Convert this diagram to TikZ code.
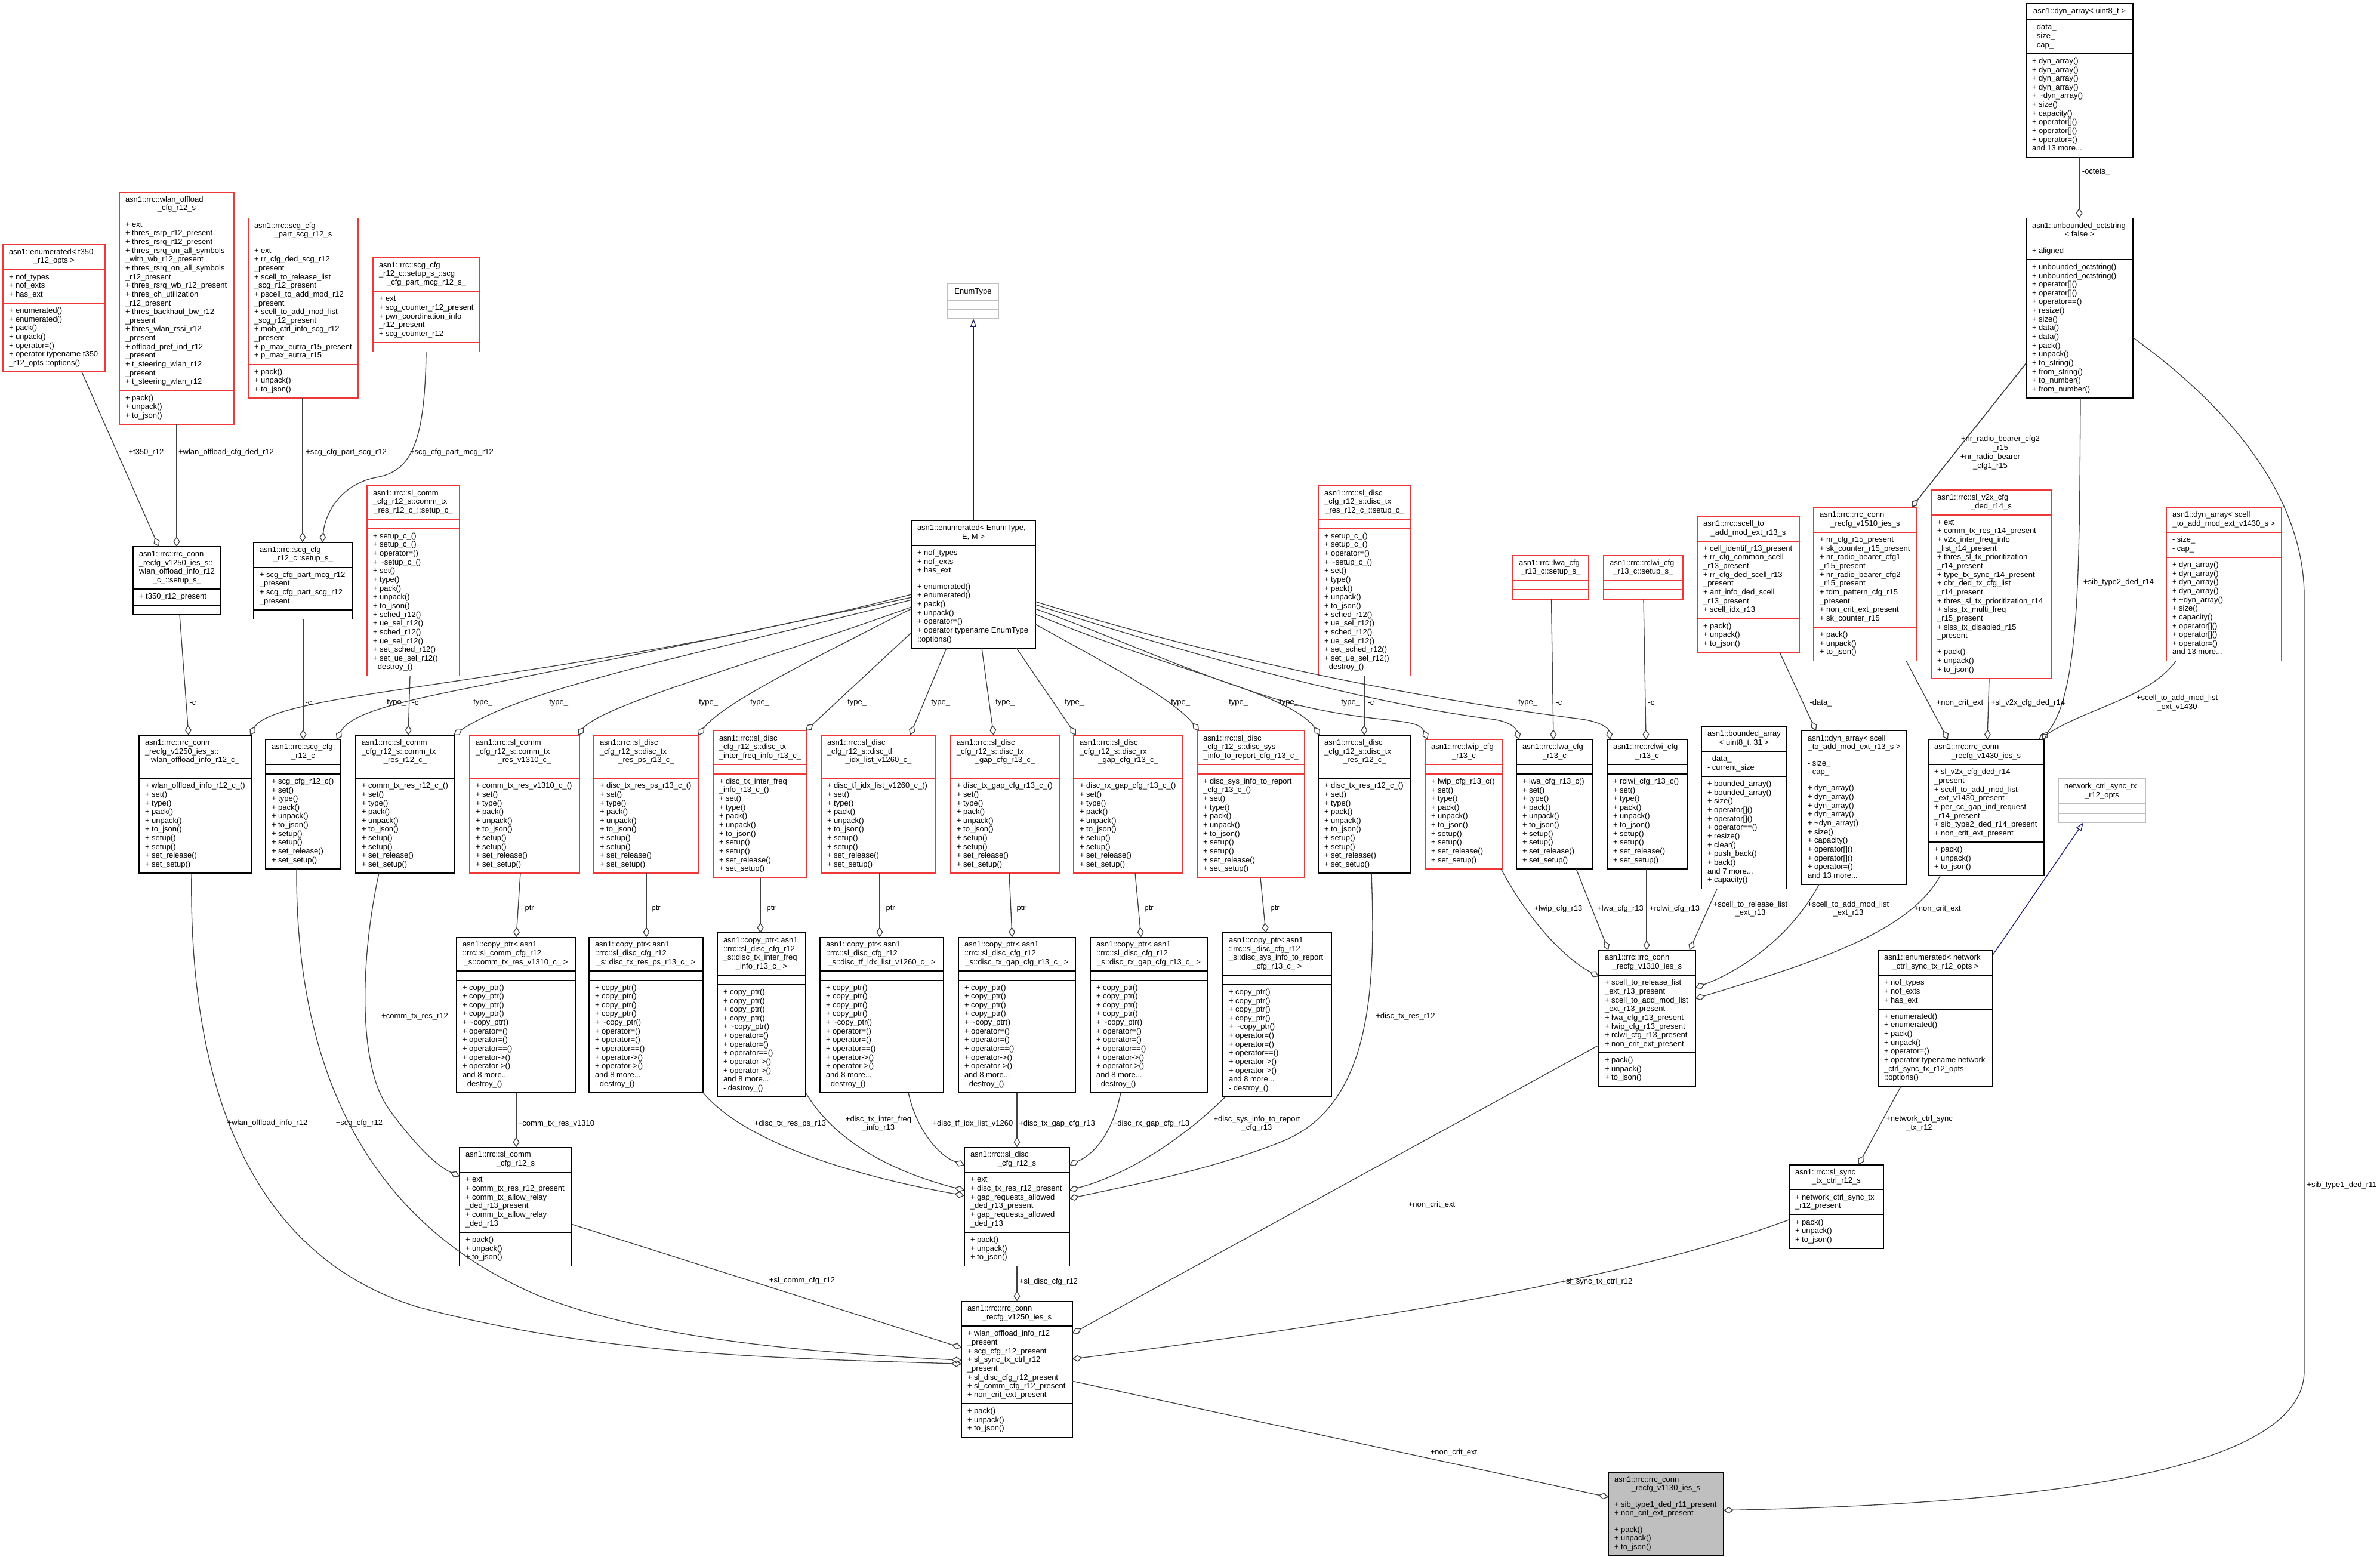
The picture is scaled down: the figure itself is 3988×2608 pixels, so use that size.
\documentclass[tikz,border=0pt]{standalone}
\usepackage{fontspec}
\setmainfont{Liberation Sans}
\usetikzlibrary{shapes.multipart,arrows.meta,calc}
\definecolor{boxred}{RGB}{240,55,55}
\definecolor{boxgrey}{RGB}{191,191,191}
\definecolor{edgec}{RGB}{64,64,64}
\definecolor{navyc}{RGB}{25,25,112}
\definecolor{fillg}{RGB}{191,191,191}
\newcommand\fs{\fontsize{13}{14.65}\selectfont}
% title: leading lines left-aligned, last line centred in the box
\newcommand\ttl[3]{\begin{tabular}{@{}l@{}}#2\multicolumn{1}{@{}c@{}}{\makebox[\dimexpr#1pt-20pt\relax][c]{#3}}\end{tabular}}
\newcommand\lst[1]{\begin{tabular}{@{}l@{}}#1\end{tabular}}
\newcommand\lbltwo[2]{\begin{tabular}{@{}l@{}}#1\\\multicolumn{1}{@{}c@{}}{#2}\end{tabular}}
\newcommand\umlc[9]{\node[#1, minimum width=#5pt] (#2) at (#3,#4) {\ttl{#5}{#6}{#7}\nodepart{two}\lst{#8}\nodepart{three}\lst{#9}};}
\newcommand\Mpj{+ pack()\\+ unpack()\\+ to\_json()}
\newcommand\Mch{+ set()\\+ type()\\+ pack()\\+ unpack()\\+ to\_json()\\+ setup()\\+ setup()\\+ set\_release()\\+ set\_setup()}
\newcommand\Mcp{+ copy\_ptr()\\+ copy\_ptr()\\+ copy\_ptr()\\+ copy\_ptr()\\+ \textasciitilde copy\_ptr()\\+ operator=()\\+ operator=()\\+ operator==()\\+ operator->()\\+ operator->()\\and 8 more...\\- destroy\_()}
\newcommand\Msc{+ setup\_c\_()\\+ setup\_c\_()\\+ operator=()\\+ \textasciitilde setup\_c\_()\\+ set()\\+ type()\\+ pack()\\+ unpack()\\+ to\_json()\\+ sched\_r12()\\+ ue\_sel\_r12()\\+ sched\_r12()\\+ ue\_sel\_r12()\\+ set\_sched\_r12()\\+ set\_ue\_sel\_r12()\\- destroy\_()}
\newcommand\Mdyn{+ dyn\_array()\\+ dyn\_array()\\+ dyn\_array()\\+ dyn\_array()\\+ \textasciitilde dyn\_array()\\+ size()\\+ capacity()\\+ operator[]()\\+ operator[]()\\+ operator=()\\and 13 more...}
\newcommand\Aenum{+ nof\_types\\+ nof\_exts\\+ has\_ext}
\tikzset{
  cls/.style={rectangle split, rectangle split parts=3, line width=1.6pt, inner xsep=10pt, inner ysep=5.5pt, outer sep=0pt, anchor=north west, rectangle split part align={left,left,left}, font=\fs, text=black},
  redc/.style={cls, draw=boxred},
  blkc/.style={cls, draw=black},
  gryc/.style={cls, draw=boxgrey},
  lbl/.style={font=\fs, inner sep=0pt, text=black},
  agg/.style={draw=edgec, line width=1.3pt, -{Diamond[open, length=17pt, width=11pt]}},
  inh/.style={draw=navyc, line width=1.3pt, -{Triangle[open, length=14pt, width=10pt]}},
}
\begin{document}
\begin{tikzpicture}[x=1pt, y=-1pt]
\fill[white] (0,0) rectangle (3988,2608);
\useasboundingbox (0,0) rectangle (3988,2608);
% ---------- row 0/1
\umlc{blkc}{DYNU8}{3395}{6}{179}{}{asn1::dyn\_array< uint8\_t >}{- data\_\\- size\_\\- cap\_}{\Mdyn}
\umlc{redc}{T350}{5}{409.6}{171}{asn1::enumerated< t350\\}{\_r12\_opts >}{\Aenum}{+ enumerated()\\+ enumerated()\\+ pack()\\+ unpack()\\+ operator=()\\+ operator typename t350\\\_r12\_opts ::options()}
\umlc{redc}{WLAN}{200}{321.7}{192}{asn1::rrc::wlan\_offload\\}{\_cfg\_r12\_s}{+ ext\\+ thres\_rsrp\_r12\_present\\+ thres\_rsrq\_r12\_present\\+ thres\_rsrq\_on\_all\_symbols\\\_with\_wb\_r12\_present\\+ thres\_rsrq\_on\_all\_symbols\\\_r12\_present\\+ thres\_rsrq\_wb\_r12\_present\\+ thres\_ch\_utilization\\\_r12\_present\\+ thres\_backhaul\_bw\_r12\\\_present\\+ thres\_wlan\_rssi\_r12\\\_present\\+ offload\_pref\_ind\_r12\\\_present\\+ t\_steering\_wlan\_r12\\\_present\\+ t\_steering\_wlan\_r12}{\Mpj}
\umlc{redc}{SCGPS}{416}{365.65}{184}{asn1::rrc::scg\_cfg\\}{\_part\_scg\_r12\_s}{+ ext\\+ rr\_cfg\_ded\_scg\_r12\\\_present\\+ scell\_to\_release\_list\\\_scg\_r12\_present\\+ pscell\_to\_add\_mod\_r12\\\_present\\+ scell\_to\_add\_mod\_list\\\_scg\_r12\_present\\+ mob\_ctrl\_info\_scg\_r12\\\_present\\+ p\_max\_eutra\_r15\_present\\+ p\_max\_eutra\_r15}{\Mpj}
\umlc{redc}{SCGMCG}{625}{431.6}{179}{asn1::rrc::scg\_cfg\\\_r12\_c::setup\_s\_::scg\\}{\_cfg\_part\_mcg\_r12\_s\_}{+ ext\\+ scg\_counter\_r12\_present\\+ pwr\_coordination\_info\\\_r12\_present\\+ scg\_counter\_r12}{}
\umlc{gryc}{ENUMTYPE}{1588}{475.5}{85}{}{EnumType}{}{}
\umlc{blkc}{OCT}{3395}{365.65}{179}{asn1::unbounded\_octstring\\}{< false >}{+ aligned}{+ unbounded\_octstring()\\+ unbounded\_octstring()\\+ operator[]()\\+ operator[]()\\+ operator==()\\+ resize()\\+ size()\\+ data()\\+ data()\\+ pack()\\+ unpack()\\+ to\_string()\\+ from\_string()\\+ to\_number()\\+ from\_number()}
% ---------- row 2
\umlc{blkc}{WLANSETUP}{223}{916.05}{146}{asn1::rrc::rrc\_conn\\\_recfg\_v1250\_ies\_s::\\wlan\_offload\_info\_r12\\}{\_c\_::setup\_s\_}{+ t350\_r12\_present}{}
\umlc{blkc}{SCGSETUP}{425}{908.7}{166}{asn1::rrc::scg\_cfg\\}{\_r12\_c::setup\_s\_}{+ scg\_cfg\_part\_mcg\_r12\\\_present\\+ scg\_cfg\_part\_scg\_r12\\\_present}{}
\umlc{redc}{COMMSETUP}{615}{813.5}{155}{asn1::rrc::sl\_comm\\\_cfg\_r12\_s::comm\_tx\\}{\_res\_r12\_c\_::setup\_c\_}{}{\Msc}
\umlc{blkc}{ENUM}{1527}{872.1}{208}{asn1::enumerated< EnumType,\\}{E, M >}{\Aenum}{+ enumerated()\\+ enumerated()\\+ pack()\\+ unpack()\\+ operator=()\\+ operator typename EnumType\\::options()}
\umlc{redc}{SDSETUP}{2209}{813.5}{155}{asn1::rrc::sl\_disc\\\_cfg\_r12\_s::disc\_tx\\}{\_res\_r12\_c\_::setup\_c\_}{}{\Msc}
\umlc{redc}{LWASETUP}{2535}{930.7}{127}{asn1::rrc::lwa\_cfg\\}{\_r13\_c::setup\_s\_}{}{}
\umlc{redc}{RCLWISETUP}{2687}{930.7}{133}{asn1::rrc::rclwi\_cfg\\}{\_r13\_c::setup\_s\_}{}{}
\umlc{redc}{SCELLEXT}{2844}{864.8}{171}{asn1::rrc::scell\_to\\}{\_add\_mod\_ext\_r13\_s}{+ cell\_identif\_r13\_present\\+ rr\_cfg\_common\_scell\\\_r13\_present\\+ rr\_cfg\_ded\_scell\_r13\\\_present\\+ ant\_info\_ded\_scell\\\_r13\_present\\+ scell\_idx\_r13}{\Mpj}
\umlc{redc}{V1510}{3039}{850.1}{173}{asn1::rrc::rrc\_conn\\}{\_recfg\_v1510\_ies\_s}{+ nr\_cfg\_r15\_present\\+ sk\_counter\_r15\_present\\+ nr\_radio\_bearer\_cfg1\\\_r15\_present\\+ nr\_radio\_bearer\_cfg2\\\_r15\_present\\+ tdm\_pattern\_cfg\_r15\\\_present\\+ non\_crit\_ext\_present\\+ sk\_counter\_r15}{\Mpj}
\umlc{redc}{V2X}{3236}{820.8}{201}{asn1::rrc::sl\_v2x\_cfg\\}{\_ded\_r14\_s}{+ ext\\+ comm\_tx\_res\_r14\_present\\+ v2x\_inter\_freq\_info\\\_list\_r14\_present\\+ thres\_sl\_tx\_prioritization\\\_r14\_present\\+ type\_tx\_sync\_r14\_present\\+ cbr\_ded\_tx\_cfg\_list\\\_r14\_present\\+ thres\_sl\_tx\_prioritization\_r14\\+ slss\_tx\_multi\_freq\\\_r15\_present\\+ slss\_tx\_disabled\_r15\\\_present}{\Mpj}
\umlc{redc}{DYNV1430}{3630}{850.1}{193}{asn1::dyn\_array< scell\\}{\_to\_add\_mod\_ext\_v1430\_s >}{- size\_\\- cap\_}{\Mdyn}
% ---------- row 3
\umlc{blkc}{WLANC}{233}{1232}{188}{asn1::rrc::rrc\_conn\\\_recfg\_v1250\_ies\_s::\\}{wlan\_offload\_info\_r12\_c\_}{}{+ wlan\_offload\_info\_r12\_c\_()\\\Mch}
\umlc{blkc}{SCGC}{445}{1239.3}{126}{asn1::rrc::scg\_cfg\\}{\_r12\_c}{}{+ scg\_cfg\_r12\_c()\\\Mch}
\umlc{blkc}{COMMC}{596}{1232}{166}{asn1::rrc::sl\_comm\\\_cfg\_r12\_s::comm\_tx\\}{\_res\_r12\_c\_}{}{+ comm\_tx\_res\_r12\_c\_()\\\Mch}
\umlc{redc}{COMMV1310C}{787}{1232}{184}{asn1::rrc::sl\_comm\\\_cfg\_r12\_s::comm\_tx\\}{\_res\_v1310\_c\_}{}{+ comm\_tx\_res\_v1310\_c\_()\\\Mch}
\umlc{redc}{DTXPS}{995}{1232}{176}{asn1::rrc::sl\_disc\\\_cfg\_r12\_s::disc\_tx\\}{\_res\_ps\_r13\_c\_}{}{+ disc\_tx\_res\_ps\_r13\_c\_()\\\Mch}
\umlc{redc}{DTXIF}{1195}{1224.6}{157}{asn1::rrc::sl\_disc\\\_cfg\_r12\_s::disc\_tx\\}{\_inter\_freq\_info\_r13\_c\_}{}{+ disc\_tx\_inter\_freq\\\_info\_r13\_c\_()\\\Mch}
\umlc{redc}{DTF}{1376}{1232}{192}{asn1::rrc::sl\_disc\\\_cfg\_r12\_s::disc\_tf\\}{\_idx\_list\_v1260\_c\_}{}{+ disc\_tf\_idx\_list\_v1260\_c\_()\\\Mch}
\umlc{redc}{DTXGAP}{1593}{1232}{182}{asn1::rrc::sl\_disc\\\_cfg\_r12\_s::disc\_tx\\}{\_gap\_cfg\_r13\_c\_}{}{+ disc\_tx\_gap\_cfg\_r13\_c\_()\\\Mch}
\umlc{redc}{DRXGAP}{1799}{1232}{183}{asn1::rrc::sl\_disc\\\_cfg\_r12\_s::disc\_rx\\}{\_gap\_cfg\_r13\_c\_}{}{+ disc\_rx\_gap\_cfg\_r13\_c\_()\\\Mch}
\umlc{redc}{DSYS}{2006}{1224.6}{180}{asn1::rrc::sl\_disc\\\_cfg\_r12\_s::disc\_sys\\}{\_info\_to\_report\_cfg\_r13\_c\_}{}{+ disc\_sys\_info\_to\_report\\\_cfg\_r13\_c\_()\\\Mch}
\umlc{blkc}{DTXRES}{2209}{1232}{155}{asn1::rrc::sl\_disc\\\_cfg\_r12\_s::disc\_tx\\}{\_res\_r12\_c\_}{}{+ disc\_tx\_res\_r12\_c\_()\\\Mch}
\umlc{redc}{LWIP}{2388}{1239.3}{130}{asn1::rrc::lwip\_cfg\\}{\_r13\_c}{}{+ lwip\_cfg\_r13\_c()\\\Mch}
\umlc{blkc}{LWA}{2541}{1239.3}{128}{asn1::rrc::lwa\_cfg\\}{\_r13\_c}{}{+ lwa\_cfg\_r13\_c()\\\Mch}
\umlc{blkc}{RCLWI}{2693}{1239.3}{134}{asn1::rrc::rclwi\_cfg\\}{\_r13\_c}{}{+ rclwi\_cfg\_r13\_c()\\\Mch}
\umlc{blkc}{BARR}{2851}{1217.3}{143}{asn1::bounded\_array\\}{< uint8\_t, 31 >}{- data\_\\- current\_size}{+ bounded\_array()\\+ bounded\_array()\\+ size()\\+ operator[]()\\+ operator[]()\\+ operator==()\\+ resize()\\+ clear()\\+ push\_back()\\+ back()\\and 7 more...\\+ capacity()}
\umlc{blkc}{DYNR13}{3019}{1224.6}{176}{asn1::dyn\_array< scell\\}{\_to\_add\_mod\_ext\_r13\_s >}{- size\_\\- cap\_}{\Mdyn}
\umlc{blkc}{V1430}{3231}{1239.3}{194}{asn1::rrc::rrc\_conn\\}{\_recfg\_v1430\_ies\_s}{+ sl\_v2x\_cfg\_ded\_r14\\\_present\\+ scell\_to\_add\_mod\_list\\\_ext\_v1430\_present\\+ per\_cc\_gap\_ind\_request\\\_r14\_present\\+ sib\_type2\_ded\_r14\_present\\+ non\_crit\_ext\_present}{\Mpj}
\umlc{gryc}{NCSTO}{3449}{1305.2}{146}{network\_ctrl\_sync\_tx\\}{\_r12\_opts}{}{}
% ---------- row 4
\umlc{blkc}{CP1310}{765}{1570.3}{199}{asn1::copy\_ptr< asn1\\::rrc::sl\_comm\_cfg\_r12\\}{\_s::comm\_tx\_res\_v1310\_c\_ >}{}{\Mcp}
\umlc{blkc}{CPPS}{987}{1570.3}{191}{asn1::copy\_ptr< asn1\\::rrc::sl\_disc\_cfg\_r12\\}{\_s::disc\_tx\_res\_ps\_r13\_c\_ >}{}{\Mcp}
\umlc{blkc}{CPIF}{1202}{1563}{148}{asn1::copy\_ptr< asn1\\::rrc::sl\_disc\_cfg\_r12\\\_s::disc\_tx\_inter\_freq\\}{\_info\_r13\_c\_ >}{}{\Mcp}
\umlc{blkc}{CPTF}{1374}{1570.3}{207}{asn1::copy\_ptr< asn1\\::rrc::sl\_disc\_cfg\_r12\\}{\_s::disc\_tf\_idx\_list\_v1260\_c\_ >}{}{\Mcp}
\umlc{blkc}{CPTXGAP}{1606}{1570.3}{196}{asn1::copy\_ptr< asn1\\::rrc::sl\_disc\_cfg\_r12\\}{\_s::disc\_tx\_gap\_cfg\_r13\_c\_ >}{}{\Mcp}
\umlc{blkc}{CPRXGAP}{1827}{1570.3}{196}{asn1::copy\_ptr< asn1\\::rrc::sl\_disc\_cfg\_r12\\}{\_s::disc\_rx\_gap\_cfg\_r13\_c\_ >}{}{\Mcp}
\umlc{blkc}{CPSYS}{2049}{1563}{182}{asn1::copy\_ptr< asn1\\::rrc::sl\_disc\_cfg\_r12\\\_s::disc\_sys\_info\_to\_report\\}{\_cfg\_r13\_c\_ >}{}{\Mcp}
\umlc{blkc}{V1310}{2679}{1592.3}{162}{asn1::rrc::rrc\_conn\\}{\_recfg\_v1310\_ies\_s}{+ scell\_to\_release\_list\\\_ext\_r13\_present\\+ scell\_to\_add\_mod\_list\\\_ext\_r13\_present\\+ lwa\_cfg\_r13\_present\\+ lwip\_cfg\_r13\_present\\+ rclwi\_cfg\_r13\_present\\+ non\_crit\_ext\_present}{\Mpj}
\umlc{blkc}{NCSENUM}{3147}{1592.3}{192}{asn1::enumerated< network\\}{\_ctrl\_sync\_tx\_r12\_opts >}{\Aenum}{+ enumerated()\\+ enumerated()\\+ pack()\\+ unpack()\\+ operator=()\\+ operator typename network\\\_ctrl\_sync\_tx\_r12\_opts\\::options()}
% ---------- rows 5-7
\umlc{blkc}{COMMCFG}{770}{1922.4}{188}{asn1::rrc::sl\_comm\\}{\_cfg\_r12\_s}{+ ext\\+ comm\_tx\_res\_r12\_present\\+ comm\_tx\_allow\_relay\\\_ded\_r13\_present\\+ comm\_tx\_allow\_relay\\\_ded\_r13}{\Mpj}
\umlc{blkc}{SLDISC}{1616}{1922.4}{176}{asn1::rrc::sl\_disc\\}{\_cfg\_r12\_s}{+ ext\\+ disc\_tx\_res\_r12\_present\\+ gap\_requests\_allowed\\\_ded\_r13\_present\\+ gap\_requests\_allowed\\\_ded\_r13}{\Mpj}
\umlc{blkc}{SYNC}{2998}{1951.7}{158}{asn1::rrc::sl\_sync\\}{\_tx\_ctrl\_r12\_s}{+ network\_ctrl\_sync\_tx\\\_r12\_present}{\Mpj}
\umlc{blkc}{V1250}{1611}{2180.3}{186}{asn1::rrc::rrc\_conn\\}{\_recfg\_v1250\_ies\_s}{+ wlan\_offload\_info\_r12\\\_present\\+ scg\_cfg\_r12\_present\\+ sl\_sync\_tx\_ctrl\_r12\\\_present\\+ sl\_disc\_cfg\_r12\_present\\+ sl\_comm\_cfg\_r12\_present\\+ non\_crit\_ext\_present}{\Mpj}
\umlc{blkc,fill=fillg}{V1130}{2695}{2466.7}{193}{asn1::rrc::rrc\_conn\\}{\_recfg\_v1130\_ies\_s}{+ sib\_type1\_ded\_r11\_present\\+ non\_crit\_ext\_present}{\Mpj}
% ---------- inheritance
\draw[inh] ($(ENUM.north west)+(104,0)$) -- ($(ENUMTYPE.south west)+(43,0)$);
\draw[inh] ($(NCSENUM.north east)+(0,8)$) -- ($(NCSTO.south west)+(42,0)$);
% ---------- aggregations, upper part
\draw[agg] ($(DYNU8.south west)+(89,0)$) -- ($(OCT.north west)+(89,0)$);
\draw[agg] ($(T350.south west)+(132,0)$) -- ($(WLANSETUP.north west)+(43,0)$);
\draw[agg] ($(WLAN.south west)+(96,0)$) -- ($(WLANSETUP.north west)+(73,0)$);
\draw[agg] ($(SCGPS.south west)+(91,0)$) -- ($(SCGSETUP.north west)+(82,0)$);
\draw[agg] ($(SCGMCG.south west)+(89,0)$) .. controls (712,740) and (690,790) .. (630,800) .. controls (570,812) and (545,860) .. ($(SCGSETUP.north west)+(115,0)$);
\draw[agg] ($(WLANSETUP.south west)+(78,0)$) -- ($(WLANC.north west)+(83,0)$);
\draw[agg] ($(SCGSETUP.south west)+(83,0)$) -- ($(SCGC.north west)+(63,0)$);
\draw[agg] ($(COMMSETUP.south west)+(72,0)$) -- ($(COMMC.north west)+(88,0)$);
\draw[agg] ($(SDSETUP.south west)+(77,0)$) -- ($(DTXRES.north west)+(77,0)$);
\draw[agg] ($(LWASETUP.south west)+(64.5,0)$) -- ($(LWA.north west)+(62,0)$);
\draw[agg] ($(RCLWISETUP.south west)+(67,0)$) -- ($(RCLWI.north west)+(65,0)$);
% ---------- type_ edges
\draw[agg] ($(ENUM.north west)+(0,124)$) .. controls (1200,1080) and (900,1120) .. (640,1160) .. controls (520,1178) and (440,1195) .. ($(WLANC.north west)+(186,0)$);
\draw[agg] ($(ENUM.north west)+(0,129)$) .. controls (1250,1060) and (1000,1110) .. (829,1144) .. controls (700,1170) and (590,1190) .. ($(SCGC.north west)+(119,0)$);
\draw[agg] ($(ENUM.north west)+(0,133)$) .. controls (1200,1090) and (880,1150) .. ($(COMMC.north west)+(164,0)$);
\draw[agg] ($(ENUM.north west)+(0,145)$) .. controls (1300,1100) and (1010,1180) .. ($(COMMV1310C.north west)+(181,0)$);
\draw[agg] ($(ENUM.north west)+(0,148)$) .. controls (1350,1110) and (1210,1180) .. ($(DTXPS.north west)+(175,0)$);
\draw[agg] ($(ENUM.north west)+(0,188)$) -- ($(DTXIF.north west)+(155,0)$);
\draw[agg] ($(ENUM.south west)+(59,0)$) -- ($(DTF.north west)+(149,0)$);
\draw[agg] ($(ENUM.south west)+(118,0)$) -- ($(DTXGAP.north west)+(72,0)$);
\draw[agg] ($(ENUM.south west)+(176,0)$) -- ($(DRXGAP.north west)+(4,0)$);
\draw[agg] ($(ENUM.north east)+(0,174)$) .. controls (1850,1110) and (1965,1170) .. ($(DSYS.north west)+(3,0)$);
\draw[agg] ($(ENUM.north east)+(0,157)$) .. controls (1950,1120) and (2160,1160) .. ($(DTXRES.north west)+(3,0)$);
\draw[agg] ($(ENUM.north east)+(0,148)$) .. controls (1900,1080) and (2000,1130) .. (2150,1175) .. controls (2300,1215) and (2375,1200) .. ($(LWIP.north west)+(4,0)$);
\draw[agg] ($(ENUM.north east)+(0,141)$) .. controls (2000,1100) and (2300,1180) .. (2500,1205) .. controls (2530,1209) and (2540,1220) .. ($(LWA.north west)+(4,0)$);
\draw[agg] ($(ENUM.north east)+(0,136)$) .. controls (2000,1090) and (2300,1160) .. (2650,1205) .. controls (2680,1209) and (2695,1220) .. ($(RCLWI.north west)+(5,0)$);
% ---------- ptr edges
\draw[agg] ($(COMMV1310C.south west)+(85,0)$) -- ($(CP1310.north west)+(100,0)$);
\draw[agg] ($(DTXPS.south west)+(88,0)$) -- ($(CPPS.north west)+(96,0)$);
\draw[agg] ($(DTXIF.south west)+(79,0)$) -- ($(CPIF.north west)+(72,0)$);
\draw[agg] ($(DTF.south west)+(98,0)$) -- ($(CPTF.north west)+(100,0)$);
\draw[agg] ($(DTXGAP.south west)+(98,0)$) -- ($(CPTXGAP.north west)+(90,0)$);
\draw[agg] ($(DRXGAP.south west)+(103,0)$) -- ($(CPRXGAP.north west)+(85,0)$);
\draw[agg] ($(DSYS.south west)+(106,0)$) -- ($(CPSYS.north west)+(72,0)$);
% ---------- into sl_comm / sl_disc
\draw[agg] ($(CP1310.south west)+(100,0)$) -- ($(COMMCFG.north west)+(95,0)$);
\draw[agg] ($(COMMC.south west)+(39,0)$) .. controls (605,1600) and (598,1780) .. (650,1856) .. controls (685,1905) and (725,1950) .. ($(COMMCFG.north west)+(0,49)$);
\draw[agg] (CPPS.south east) .. controls (1240,1905) and (1400,1965) .. ($(SLDISC.north west)+(0,81)$);
\draw[agg] ($(CPIF.north east)+(0,268)$) .. controls (1400,1915) and (1500,1965) .. ($(SLDISC.north west)+(0,72)$);
\draw[agg] ($(CPTF.south west)+(148,0)$) .. controls (1535,1890) and (1570,1935) .. ($(SLDISC.north west)+(0,30)$);
\draw[agg] ($(CPTXGAP.south west)+(98,0)$) -- ($(SLDISC.north west)+(88,0)$);
\draw[agg] ($(CPRXGAP.south west)+(51,0)$) .. controls (1866,1890) and (1840,1930) .. ($(SLDISC.north east)+(0,30)$);
\draw[agg] ($(CPSYS.south west)+(4,0)$) .. controls (1990,1900) and (1900,1965) .. ($(SLDISC.north east)+(0,72)$);
\draw[agg] ($(DTXRES.south west)+(89,0)$) .. controls (2305,1650) and (2300,1850) .. (2150,1912) .. controls (2030,1960) and (1900,1985) .. ($(SLDISC.north east)+(0,86)$);
% ---------- into v1250 / v1130
\draw[agg] ($(COMMCFG.north east)+(0,129)$) -- ($(V1250.north west)+(0,78)$);
\draw[agg] ($(SLDISC.south west)+(88,0)$) -- ($(V1250.north west)+(93,0)$);
\draw[agg] ($(SCGC.south west)+(52,0)$) .. controls (495,1800) and (620,2050) .. (900,2170) .. controls (1100,2250) and (1400,2268) .. ($(V1250.north west)+(0,99)$);
\draw[agg] ($(WLANC.south west)+(88,0)$) .. controls (315,1900) and (470,2120) .. (700,2190) .. controls (1000,2270) and (1300,2276) .. ($(V1250.north west)+(0,105)$);
\draw[agg] ($(V1310.north west)+(0,159)$) -- ($(V1250.north east)+(0,54)$);
\draw[agg] ($(SYNC.north west)+(0,92)$) .. controls (2700,2155) and (2200,2225) .. ($(V1250.north east)+(0,97)$);
\draw[agg] ($(V1250.north east)+(0,134)$) -- ($(V1130.north west)+(0,42)$);
\draw[agg] ($(OCT.north east)+(0,200)$) .. controls (3760,700) and (3861,850) .. (3861,1000) -- (3861,2297) .. controls (3861,2470) and (3400,2520) .. ($(V1130.north east)+(0,64)$);
% ---------- into v1310
\draw[agg] ($(LWIP.south west)+(127,0)$) .. controls (2560,1540) and (2620,1605) .. ($(V1310.north west)+(0,44)$);
\draw[agg] ($(LWA.south west)+(100,0)$) -- ($(V1310.north west)+(16,0)$);
\draw[agg] ($(RCLWI.south west)+(66,0)$) -- ($(V1310.north west)+(80,0)$);
\draw[agg] ($(BARR.south west)+(26,0)$) -- ($(V1310.north west)+(152,0)$);
\draw[agg] ($(DYNR13.south west)+(29,0)$) .. controls (3000,1570) and (2920,1625) .. ($(V1310.north east)+(0,63)$);
\draw[agg] ($(V1430.south west)+(20,0)$) .. controls (3200,1560) and (3050,1610) .. ($(V1310.north east)+(0,81)$);
% ---------- into v1430 / v1510 / dyn
\draw[agg] ($(V1510.south west)+(155,0)$) -- ($(V1430.north west)+(33,0)$);
\draw[agg] ($(V2X.south west)+(97,0)$) -- ($(V1430.north west)+(99,0)$);
\draw[agg] ($(OCT.south west)+(91,0)$) .. controls (3484,950) and (3486,1160) .. ($(V1430.north west)+(190,0)$);
\draw[agg] ($(DYNV1430.south west)+(16,0)$) .. controls (3600,1170) and (3500,1185) .. ($(V1430.north west)+(185,0)$);
\draw[agg] ($(OCT.north west)+(0,243)$) -- ($(V1510.north west)+(164,0)$);
\draw[agg] ($(OCT.north west)+(0,243)$) -- ($(V1510.north west)+(164,0)$);
\draw[agg] ($(SCELLEXT.south west)+(138,0)$) -- ($(DYNR13.north west)+(24,0)$);
\draw[agg] ($(NCSENUM.south west)+(38,0)$) -- ($(SYNC.north west)+(116,0)$);
% ---------- labels
\node[lbl] (L1) at (3512,289) {-octets\_};
\node[lbl] (L2) at (245,758.6) {+t350\_r12};
\node[lbl] (L3) at (379,758.6) {+wlan\_offload\_cfg\_ded\_r12};
\node[lbl] (L4) at (580,758.6) {+scg\_cfg\_part\_scg\_r12};
\node[lbl] (L5) at (757,758.6) {+scg\_cfg\_part\_mcg\_r12};
\node[lbl] (L6) at (3352,744) {\lbltwo{+nr\_radio\_bearer\_cfg2}{\_r15}};
\node[lbl] (L7) at (3335,774) {\lbltwo{+nr\_radio\_bearer}{\_cfg1\_r15}};
\node[lbl] (L8) at (3550,976) {+sib\_type2\_ded\_r14};
\node[lbl] (L9) at (323,1178) {-c};
\node[lbl] (L10) at (517,1178) {-c};
\node[lbl] (L11) at (696,1178) {-c};
\node[lbl] (L12) at (2297,1178) {-c};
\node[lbl] (L13) at (2612,1178) {-c};
\node[lbl] (L14) at (2767,1178) {-c};
\foreach \xx [count=\ii] in {662,807,934,1185,1271,1434,1574,1682,1798,1976,2073,2158,2261,2558}
  \node[lbl] (LT\ii) at (\xx,1178) {-type\_};
\foreach \xx [count=\ii] in {885,1097,1290,1490,1709,1923,2134}
  \node[lbl] (LP\ii) at (\xx,1523) {-ptr};
\node[lbl] (L15) at (3051,1178) {-data\_};
\node[lbl] (L16) at (3284,1178) {+non\_crit\_ext};
\node[lbl] (L17) at (3398,1178) {+sl\_v2x\_cfg\_ded\_r14};
\node[lbl] (L18) at (3648,1178) {\lbltwo{+scell\_to\_add\_mod\_list}{\_ext\_v1430}};
\node[lbl] (L19) at (2611,1523) {+lwip\_cfg\_r13};
\node[lbl] (L20) at (2715,1523) {+lwa\_cfg\_r13};
\node[lbl] (L21) at (2806,1523) {+rclwi\_cfg\_r13};
\node[lbl] (L22) at (2933,1523.5) {\lbltwo{+scell\_to\_release\_list}{\_ext\_r13}};
\node[lbl] (L23) at (3097,1523.5) {\lbltwo{+scell\_to\_add\_mod\_list}{\_ext\_r13}};
\node[lbl] (L24) at (3246.5,1523) {+non\_crit\_ext};
\node[lbl] (L25) at (695,1703) {+comm\_tx\_res\_r12};
\node[lbl] (L26) at (2355,1703) {+disc\_tx\_res\_r12};
\node[lbl] (L27) at (932,1883) {+comm\_tx\_res\_v1310};
\node[lbl] (L28) at (1324,1883) {+disc\_tx\_res\_ps\_r13};
\node[lbl] (L29) at (1472,1883.5) {\lbltwo{+disc\_tx\_inter\_freq}{\_info\_r13}};
\node[lbl] (L30) at (1630,1883) {+disc\_tf\_idx\_list\_v1260};
\node[lbl] (L31) at (1771,1883) {+disc\_tx\_gap\_cfg\_r13};
\node[lbl] (L32) at (1929,1883) {+disc\_rx\_gap\_cfg\_r13};
\node[lbl] (L33) at (2106,1883.5) {\lbltwo{+disc\_sys\_info\_to\_report}{\_cfg\_r13}};
\node[lbl] (L34) at (3216,1883) {\lbltwo{+network\_ctrl\_sync}{\_tx\_r12}};
\node[lbl] (L35) at (448,1882) {+wlan\_offload\_info\_r12};
\node[lbl] (L36) at (602,1882) {+scg\_cfg\_r12};
\node[lbl] (L37) at (3924,1986) {+sib\_type1\_ded\_r11};
\node[lbl] (L38) at (2399,2019) {+non\_crit\_ext};
\node[lbl] (L39) at (1344,2146) {+sl\_comm\_cfg\_r12};
\node[lbl] (L40) at (1757,2148) {+sl\_disc\_cfg\_r12};
\node[lbl] (L41) at (2676,2148) {+sl\_sync\_tx\_ctrl\_r12};
\node[lbl] (L42) at (2436,2434) {+non\_crit\_ext};
\end{tikzpicture}
\end{document}
